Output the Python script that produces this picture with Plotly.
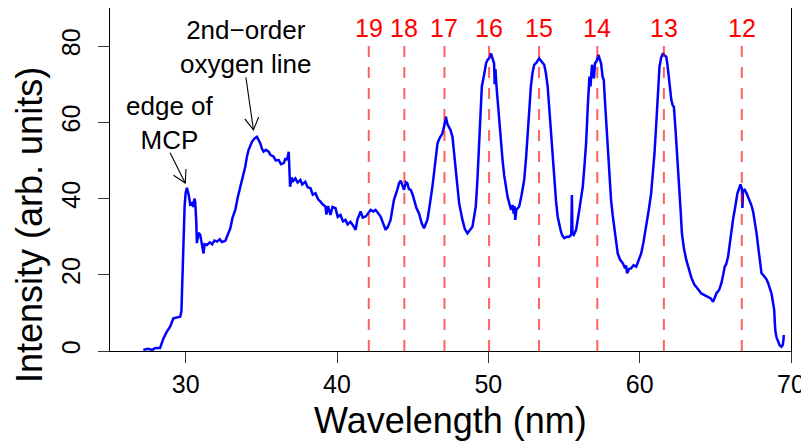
import math
import plotly.graph_objects as go

# ---- data ----
wavelength = [
    27.2, 27.5, 27.8, 28.0, 28.31, 28.4, 28.53, 28.75, 28.97, 29.19, 29.4, 29.64, 29.72, 29.78, 29.85,
    29.93, 30.0, 30.08, 30.2, 30.3, 30.41, 30.5, 30.58, 30.63, 30.7, 30.74, 30.85, 30.96, 31.05, 31.18,
    31.25, 31.4, 31.6, 31.75, 31.9, 32.07, 32.25, 32.4, 32.62, 32.8, 32.95, 33.1, 33.28, 33.45, 33.61,
    33.8, 33.94, 34.05, 34.16, 34.38, 34.55, 34.71, 34.82, 34.93, 35.05, 35.15, 35.3, 35.48, 35.6, 35.81,
    35.95, 36.15, 36.3, 36.48, 36.6, 36.7, 36.81, 36.86, 36.9, 37.0, 37.1, 37.25, 37.4, 37.58, 37.7,
    37.91, 38.05, 38.25, 38.4, 38.58, 38.75, 38.91, 39.05, 39.24, 39.3, 39.4, 39.57, 39.7, 39.9, 40.05,
    40.23, 40.4, 40.56, 40.7, 40.89, 41.05, 41.23, 41.35, 41.56, 41.7, 41.89, 42.0, 42.22, 42.4, 42.55,
    42.7, 42.88, 43.05, 43.21, 43.35, 43.54, 43.65, 43.76, 43.98, 44.1, 44.21, 44.3, 44.43, 44.55, 44.65,
    44.75, 44.87, 45.0, 45.09, 45.25, 45.42, 45.6, 45.75, 45.85, 45.97, 46.08, 46.19, 46.3, 46.41, 46.52,
    46.64, 46.8, 46.97, 47.08, 47.19, 47.3, 47.4, 47.5, 47.63, 47.75, 47.85, 47.95, 48.07, 48.18, 48.29,
    48.45, 48.62, 48.8, 48.95, 49.05, 49.17, 49.28, 49.39, 49.48, 49.57, 49.72, 49.85, 49.95, 50.08, 50.17,
    50.28, 50.38, 50.42, 50.47, 50.54, 50.62, 50.72, 50.83, 50.94, 51.05, 51.16, 51.27, 51.38, 51.5, 51.6,
    51.68, 51.73, 51.78, 51.85, 52.04, 52.2, 52.37, 52.5, 52.6, 52.7, 52.81, 52.92, 53.03, 53.2, 53.36,
    53.5, 53.69, 53.8, 53.92, 54.03, 54.14, 54.25, 54.36, 54.47, 54.58, 54.7, 54.8, 54.9, 55.02, 55.2,
    55.35, 55.48, 55.52, 55.56, 55.65, 55.8, 55.9, 56.01, 56.12, 56.24, 56.35, 56.46, 56.57, 56.68, 56.75,
    56.85, 56.9, 56.98, 57.05, 57.15, 57.27, 57.36, 57.45, 57.55, 57.63, 57.7, 57.78, 57.85, 57.93, 58.02,
    58.11, 58.22, 58.33, 58.44, 58.55, 58.7, 58.89, 59.0, 59.1, 59.17, 59.3, 59.44, 59.6, 59.77, 59.9,
    60.1, 60.25, 60.43, 60.6, 60.76, 60.88, 60.98, 61.08, 61.16, 61.24, 61.31, 61.42, 61.54, 61.65, 61.76,
    61.84, 61.91, 62.0, 62.09, 62.18, 62.26, 62.37, 62.48, 62.56, 62.64, 62.72, 62.79, 62.92, 63.08, 63.25,
    63.41, 63.6, 63.74, 63.9, 64.07, 64.3, 64.52, 64.7, 64.85, 64.95, 65.07, 65.25, 65.4, 65.52, 65.62,
    65.72, 65.84, 65.95, 66.06, 66.17, 66.28, 66.38, 66.46, 66.56, 66.66, 66.76, 66.79, 66.83, 66.94, 67.05,
    67.16, 67.27, 67.38, 67.5, 67.6, 67.72, 67.83, 67.94, 68.05, 68.15, 68.26, 68.38, 68.49, 68.6, 68.71,
    68.8, 68.89, 68.93, 68.97, 69.05, 69.15, 69.25, 69.37, 69.45, 69.5, 69.52,
]
intensity = [
    0.3, 0.6, 0.3, 0.8, 0.8, 2.0, 3.3, 5.0, 6.4, 8.6, 8.8, 9.0, 10.5, 18.0, 30.0,
    38.0, 41.5, 42.8, 41.0, 38.5, 38.8, 37.8, 40.0, 39.2, 34.0, 28.3, 31.0, 30.5, 28.5, 25.6,
    28.0, 27.8, 28.5, 28.0, 29.0, 28.7, 29.3, 28.6, 28.9, 30.5, 32.2, 35.0, 37.0, 40.5, 43.1,
    46.0, 48.4, 51.0, 52.8, 54.9, 55.8, 56.2, 55.5, 54.5, 53.0, 52.3, 52.8, 52.3, 51.5, 51.0,
    50.0, 50.1, 49.0, 49.3, 50.6, 50.1, 52.3, 47.0, 43.1, 45.5, 44.6, 45.3, 44.2, 44.9, 43.7,
    44.4, 43.0, 42.7, 41.0, 41.4, 39.8, 39.2, 38.5, 37.9, 35.8, 38.0, 35.7, 37.8, 37.5, 35.2,
    35.7, 34.0, 34.4, 33.2, 33.9, 33.0, 31.8, 34.5, 36.6, 35.0, 35.3, 35.8, 37.0, 36.6, 37.0,
    36.3, 35.3, 33.5, 31.8, 32.5, 34.4, 37.0, 39.6, 42.3, 44.0, 44.7, 43.8, 42.3, 44.3, 44.0,
    42.5, 42.3, 41.0, 39.6, 37.5, 36.1, 33.5, 32.2, 33.0, 34.4, 37.0, 39.6, 43.0, 46.6, 51.0,
    54.5, 56.0, 57.1, 59.0, 61.5, 59.5, 58.9, 58.0, 56.2, 52.0, 48.4, 43.5, 38.8, 36.0, 34.4,
    32.0, 30.9, 31.8, 32.6, 35.0, 37.9, 45.0, 54.0, 63.0, 69.4, 72.5, 75.5, 76.4, 77.0, 78.1,
    76.5, 75.5, 70.0, 74.0, 69.4, 65.0, 60.6, 55.0, 50.1, 46.0, 43.1, 40.5, 38.8, 37.0, 38.3,
    36.0, 38.0, 34.4, 37.0, 37.9, 41.0, 44.9, 51.0, 57.1, 63.5, 69.4, 73.0, 75.1, 75.8, 76.8,
    76.0, 75.1, 73.0, 69.4, 63.5, 57.1, 50.5, 44.9, 39.5, 35.3, 33.0, 31.3, 30.2, 29.6, 30.0,
    30.0, 30.5, 40.9, 31.0, 30.5, 31.8, 34.0, 37.0, 40.0, 43.1, 48.5, 54.5, 64.0, 72.0, 69.4,
    75.1, 73.8, 71.5, 75.5, 76.0, 77.7, 76.5, 75.5, 72.0, 71.1, 66.0, 60.6, 55.0, 49.3, 44.0,
    39.6, 35.5, 31.8, 28.5, 25.6, 24.0, 23.0, 22.0, 22.4, 20.4, 21.5, 21.7, 22.5, 22.1, 23.5,
    25.6, 28.5, 32.6, 37.0, 41.4, 46.5, 51.9, 58.5, 65.0, 70.5, 74.6, 77.0, 78.1, 77.5, 77.2,
    75.0, 72.0, 69.0, 65.9, 64.5, 64.1, 58.0, 51.9, 46.5, 41.4, 36.0, 30.9, 27.0, 23.9, 21.5,
    19.3, 17.5, 16.9, 16.0, 15.1, 14.6, 14.3, 13.8, 12.9, 14.0, 15.1, 16.0, 17.8, 20.0, 22.1,
    22.8, 24.7, 28.0, 31.8, 34.5, 37.0, 39.5, 41.4, 42.5, 43.7, 42.5, 37.5, 42.0, 42.3, 41.5,
    40.5, 39.5, 38.3, 36.5, 34.4, 31.0, 27.4, 23.5, 20.4, 20.0, 19.5, 18.8, 17.8, 16.5, 15.1,
    13.0, 10.8, 7.5, 5.1, 3.5, 2.4, 1.5, 1.1, 1.5, 2.8, 4.2,
]

harmonic_orders = ["19", "18", "17", "16", "15", "14", "13", "12"]
harmonic_wavelengths = [42.1, 44.45, 47.1, 50.05, 53.35, 57.2, 61.6, 66.75]

x_ticks = [30, 40, 50, 60, 70]
y_ticks = [0, 20, 40, 60, 80]

# annotations (text, text centre, arrow tail, arrow tip) in data units
notes = [
    ("edge of<br>MCP", (28.99, 59.8), (28.97, 52.0), (29.97, 44.1)),
    ("2nd\u2212order<br>oxygen line", (33.98, 79.7), (33.98, 71.8), (34.48, 58.0)),
]

# ---- layout geometry (page body has an 8px margin) ----
BODY = 8
W, H = 809 - BODY, 444 - BODY
ML, MR, MT, MB = 110 - BODY, 18, 8 - BODY, 93
X0, X1 = 25, 70
Y0, Y1 = 0, 90
PW, PH = W - ML - MR, H - MT - MB
FONT = "Liberation Sans, Arial, sans-serif"

fig = go.Figure()
fig.add_trace(go.Scatter(
    x=wavelength, y=intensity, mode="lines",
    line=dict(color="#0000FF", width=2.5), hoverinfo="skip", showlegend=False,
))

# dashed harmonic lines and labels
for lab, wl in zip(harmonic_orders, harmonic_wavelengths):
    fig.add_shape(type="line", xref="x", yref="y", x0=wl, x1=wl, y0=0, y1=80.8,
                  line=dict(color="rgba(255,0,0,0.62)", width=2, dash="11px,10px"),
                  layer="above")
    fig.add_annotation(x=wl, y=84.8, xref="x", yref="y", text=lab, showarrow=False,
                       font=dict(family=FONT, size=25, color="#FF0000"),
                       xanchor="center", yanchor="middle")


def arrow_head(tip, tail, length=14, angle=30):
    dx = (tail[0] - tip[0]) * PW / (X1 - X0)
    dy = -(tail[1] - tip[1]) * PH / (Y1 - Y0)
    n = math.hypot(dx, dy)
    ux, uy = dx / n, dy / n
    pts = []
    for s in (1, -1):
        a = math.radians(angle) * s
        rx = ux * math.cos(a) - uy * math.sin(a)
        ry = ux * math.sin(a) + uy * math.cos(a)
        px, py = rx * length, ry * length
        pts.append((tip[0] + px * (X1 - X0) / PW, tip[1] - py * (Y1 - Y0) / PH))
    return pts


for text, centre, tail, tip in notes:
    fig.add_annotation(x=centre[0], y=centre[1], xref="x", yref="y", text=text,
                       showarrow=False, font=dict(family=FONT, size=26, color="black"),
                       xanchor="center", yanchor="middle", align="center")
    fig.add_shape(type="line", xref="x", yref="y", x0=tail[0], y0=tail[1], x1=tip[0], y1=tip[1],
                  line=dict(color="black", width=1.1), layer="above")
    a1, a2 = arrow_head(tip, tail)
    fig.add_shape(type="path", xref="x", yref="y",
                  path=f"M {a1[0]} {a1[1]} L {tip[0]} {tip[1]} L {a2[0]} {a2[1]}",
                  line=dict(color="black", width=1.1), layer="above")

# axis titles
fig.add_annotation(x=0.5, y=0, xref="paper", yref="paper", yshift=-69,
                   text="Wavelength (nm)", showarrow=False,
                   font=dict(family=FONT, size=36, color="black"),
                   xanchor="center", yanchor="middle")
fig.add_annotation(x=0, y=(351 - 225) / PH, xref="paper", yref="paper", xshift=-81,
                   text="Intensity (arb. units)", showarrow=False, textangle=-90,
                   font=dict(family=FONT, size=36, color="black"),
                   xanchor="center", yanchor="middle")

axis_common = dict(showgrid=False, zeroline=False, showline=True, mirror=True,
                   linecolor="black", linewidth=1.2, ticks="outside", ticklen=11,
                   tickwidth=1.1, tickcolor="#333333",
                   tickfont=dict(family=FONT, size=25, color="black"))
fig.update_xaxes(range=[X0, X1], tickvals=x_ticks, ticktext=[str(t) for t in x_ticks],
                 ticklabeloverflow="allow", **axis_common)
fig.update_yaxes(range=[Y0, Y1], tickvals=y_ticks, ticktext=[str(t) for t in y_ticks],
                 tickangle=-90, ticklabelstandoff=8, **axis_common)

fig.update_layout(width=W, height=H, margin=dict(l=ML, r=MR, t=MT, b=MB, pad=0),
                  plot_bgcolor="white", paper_bgcolor="white",
                  font=dict(family=FONT, color="black"), showlegend=False)

fig.write_html("out.html")
